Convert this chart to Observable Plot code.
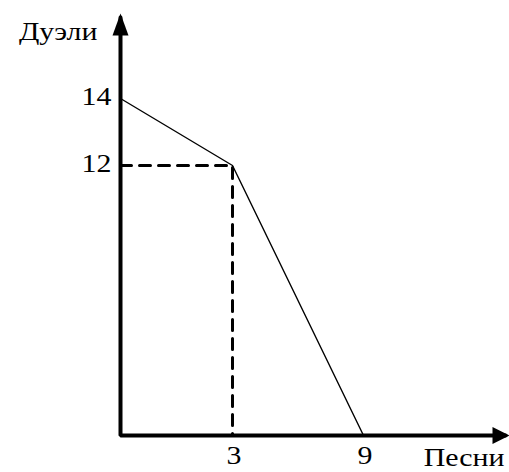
<!DOCTYPE html>
<html>
<head>
<meta charset="utf-8">
<script src="https://cdn.jsdelivr.net/npm/d3@7"></script>
<script src="https://cdn.jsdelivr.net/npm/@observablehq/plot@0.6"></script>
<style>
  html, body { margin: 0; padding: 0; background: #fff; overflow: hidden; }
</style>
</head>
<body>
<div id="chart"></div>
<script>
// Data (schematic production possibilities frontier)
const songs = [0, 3, 9];
const duels = [14, 12, 0];
const kinkSong = 3;
const kinkDuel = 12;
const xTicks = [3, 9];
const yTicks = [14, 12];
const xEnd = 15.5;   // how far the x axis arrow reaches
const yEnd = 16.5;   // how far the y axis arrow reaches
const xTitle = "Песни";
const yTitle = "Дуэли";

const frontier = songs.map((s, i) => ({songs: s, duels: duels[i]}));
const guide = [
  {songs: 0, duels: kinkDuel},
  {songs: kinkSong, duels: kinkDuel},
  {songs: kinkSong, duels: 0}
];
const axes = [
  {songs: 0, duels: yEnd},
  {songs: 0, duels: 0},
  {songs: xEnd, duels: 0}
];

const arrowUp = {draw(ctx) { ctx.moveTo(0, -4); ctx.lineTo(8, 18); ctx.lineTo(-8, 18); ctx.closePath(); }};
const arrowRight = {draw(ctx) { ctx.moveTo(4, 0); ctx.lineTo(-13, 8.5); ctx.lineTo(-13, -8.5); ctx.closePath(); }};

const font = "'Liberation Serif', 'Times New Roman', serif";

const chart = Plot.plot({
  width: 509,
  height: 472,
  style: {fontFamily: font, fontSize: "26px", background: "#fff", color: "#000"},
  x: {type: "linear", domain: [0, 3, 9, xEnd], range: [120, 232, 363, 505], axis: null},
  y: {type: "linear", domain: [0, 12, 14, yEnd], range: [435, 165, 98, 17], axis: null},
  marks: [
    Plot.line(guide, {x: "songs", y: "duels", stroke: "#000", strokeWidth: 3, strokeDasharray: "11,8"}),
    Plot.line(frontier, {x: "songs", y: "duels", stroke: "#000", strokeWidth: 1.4}),
    Plot.line(axes, {x: "songs", y: "duels", stroke: "#000", strokeWidth: 4, strokeLinejoin: "miter", curve: "linear"}),
    Plot.dot([axes[0]], {x: "songs", y: "duels", symbol: arrowUp, fill: "#000", stroke: "none"}),
    Plot.dot([axes[2]], {x: "songs", y: "duels", symbol: arrowRight, fill: "#000", stroke: "none"}),
    Plot.text(yTicks, {x: 0, y: d => d, text: d => String(d), textAnchor: "end", lineAnchor: "bottom", dx: -9, dy: 6, fontSize: 26}),
    Plot.text(xTicks, {x: d => d, y: 0, text: d => String(d), textAnchor: "middle", lineAnchor: "bottom", dx: 1.5, dy: 28, fontSize: 26}),
    Plot.text([yTitle], {x: 0, y: yEnd, text: d => d, textAnchor: "end", lineAnchor: "bottom", dx: -23, dy: 22, fontSize: 26}),
    Plot.text([xTitle], {x: xEnd, y: 0, text: d => d, textAnchor: "end", lineAnchor: "bottom", dx: -1, dy: 30, fontSize: 26})
  ]
});

// Times-like glyphs in the reference are slightly wider: stretch text horizontally
d3.select(chart).selectAll("text").each(function() {
  const t = this.getAttribute("transform") || "";
  this.setAttribute("transform", t + " scale(1.15,1)");
});

document.getElementById("chart").appendChild(chart);
</script>
</body>
</html>
